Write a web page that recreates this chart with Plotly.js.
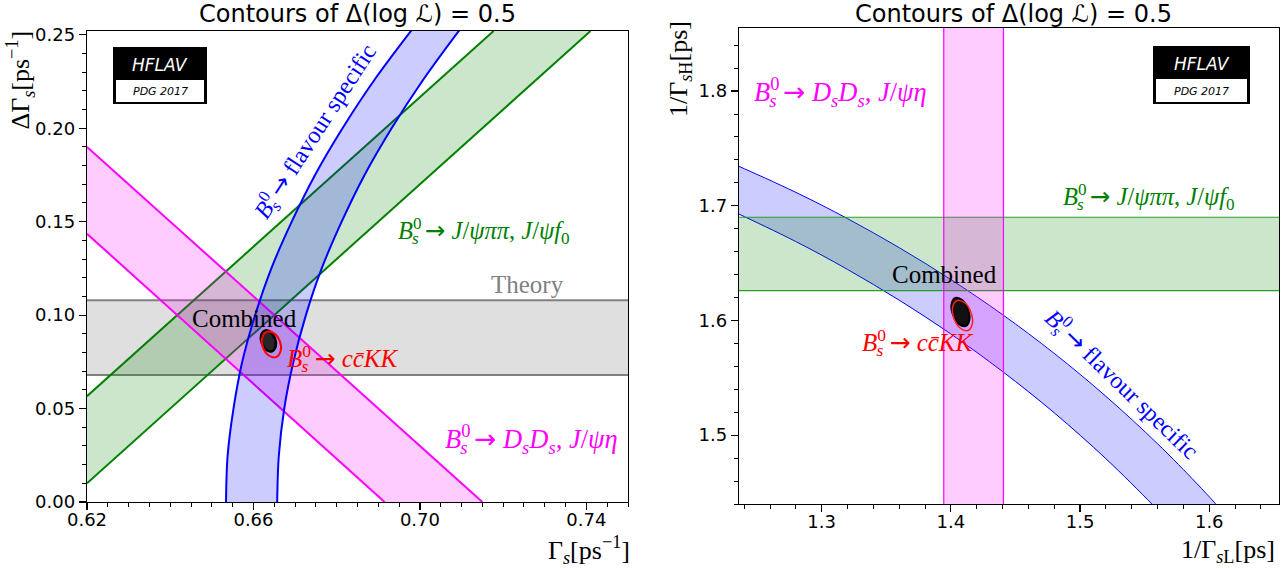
<!DOCTYPE html>
<html><head><meta charset="utf-8">
<script src="https://cdn.plot.ly/plotly-3.0.1.min.js"></script>
<style>html,body{margin:0;padding:0;background:#fff}#chart{width:1286px;height:569px}</style>
</head><body><div id="chart"></div>
<script>
// ================= DATA =================
// ---- Left panel: x = Gamma_s [ps^-1], y = DeltaGamma_s [ps^-1]
const theoryBand = [0.068, 0.108];
const jpsiPiPiUpperX = [0.62, 0.7177];
const jpsiPiPiUpperY = [0.0566, 0.252];
const jpsiPiPiLowerX = [0.62, 0.741];
const jpsiPiPiLowerY = [0.0100, 0.252];
const dsdsUpperX = [0.62, 0.715];
const dsdsUpperY = [0.190, 0.0];
const dsdsLowerX = [0.62, 0.6915];
const dsdsLowerY = [0.1435, 0.0];
const flavourDG = [0, 0.025, 0.05, 0.075, 0.10, 0.125, 0.15, 0.175, 0.20, 0.225, 0.2525];
const flavourOuterG = [0.6534, 0.6538, 0.6552, 0.6573, 0.6604, 0.6643, 0.6692, 0.6748, 0.6814, 0.6888, 0.6980];
const flavourInnerG = [0.6657, 0.6661, 0.6674, 0.6696, 0.6726, 0.6764, 0.6812, 0.6867, 0.6932, 0.7005, 0.7095];
const combinedLeftX = [0.66271, 0.66407, 0.66517, 0.66534, 0.66448, 0.66311, 0.66201, 0.66184, 0.66271];
const combinedLeftY = [0.09170, 0.09101, 0.08747, 0.08319, 0.08067, 0.08137, 0.08490, 0.08919, 0.09170];
const ccKKLeftX = [0.66321, 0.66496, 0.66635, 0.66651, 0.66541, 0.66366, 0.66228, 0.66211, 0.66321];
const ccKKLeftY = [0.09111, 0.09026, 0.08597, 0.08067, 0.07752, 0.07837, 0.08266, 0.08796, 0.09111];
const leftXTicks = [0.62, 0.66, 0.70, 0.74];
const leftXTickText = ['0.62', '0.66', '0.70', '0.74'];
const leftYTicks = [0.00, 0.05, 0.10, 0.15, 0.20, 0.25];
const leftYTickText = ['0.00', '0.05', '0.10', '0.15', '0.20', '0.25'];

// ---- Right panel: x = 1/Gamma_sL [ps], y = 1/Gamma_sH [ps]
const jpsiPiPiTauH = [1.626, 1.690];
const dsdsTauL = [1.3945, 1.4407];
const fsUpperX = [1.22, 1.2357, 1.28, 1.32, 1.36, 1.40, 1.44, 1.48, 1.52, 1.56, 1.59, 1.605, 1.62];
const fsUpperY = [1.7420, 1.7345, 1.7117, 1.6888, 1.6635, 1.6357, 1.6051, 1.5713, 1.5339, 1.4925, 1.4583, 1.4401, 1.4210];
const fsLowerX = [1.22, 1.2357, 1.28, 1.32, 1.36, 1.40, 1.44, 1.48, 1.52, 1.556, 1.57];
const fsLowerY = [1.7009, 1.6929, 1.6688, 1.6445, 1.6177, 1.5882, 1.5555, 1.5195, 1.4795, 1.4395, 1.4228];
const combinedRightX = [1.40348, 1.40875, 1.41324, 1.41432, 1.41138, 1.40611, 1.40163, 1.40054, 1.40348];
const combinedRightY = [1.61970, 1.61779, 1.60976, 1.60039, 1.59512, 1.59704, 1.60506, 1.61443, 1.61970];
const ccKKRightX = [1.40477, 1.41063, 1.41553, 1.41659, 1.41319, 1.40733, 1.40243, 1.40137, 1.40477];
const ccKKRightY = [1.61747, 1.61551, 1.60703, 1.59697, 1.59125, 1.59321, 1.60169, 1.61174, 1.61747];
const rightXTicks = [1.3, 1.4, 1.5, 1.6];
const rightXTickText = ['1.3', '1.4', '1.5', '1.6'];
const rightYTicks = [1.5, 1.6, 1.7, 1.8];
const rightYTickText = ['1.5', '1.6', '1.7', '1.8'];

const leftXRange = [0.62, 0.75];
const leftYRange = [0, 0.252];
const rightXRange = [1.236, 1.654];
const rightYRange = [1.44, 1.855];

// ================= DRAWING =================
const W = 1286, H = 569;
const PX = v => v / W;
const PY = v => 1 - v / H;
const SERIF = 'Liberation Serif, DejaVu Serif, serif';
const SANS = 'DejaVu Sans, sans-serif';

const BLUE = '#0000ff', GREEN = '#008000', MAG = '#ff00ff';
const BLUE_F = 'rgba(0,0,255,0.2)', GREEN_F = 'rgba(0,128,0,0.2)', MAG_F = 'rgba(255,0,255,0.2)';

function fillTrace(xs, ys, color, xa, ya) {
  return {x: xs, y: ys, xaxis: xa, yaxis: ya, type: 'scatter', mode: 'lines',
          fill: 'toself', fillcolor: color, line: {width: 0}, hoverinfo: 'skip'};
}
function lineTrace(xs, ys, color, w, xa, ya, shape) {
  return {x: xs, y: ys, xaxis: xa, yaxis: ya, type: 'scatter', mode: 'lines',
          line: {color: color, width: w, shape: shape || 'linear', smoothing: 1}, hoverinfo: 'skip'};
}

const traces = [];
// ---- left panel ----
traces.push(fillTrace([leftXRange[0], leftXRange[1], leftXRange[1], leftXRange[0]],
  [theoryBand[0], theoryBand[0], theoryBand[1], theoryBand[1]], 'rgba(128,128,128,0.25)', 'x', 'y'));
traces.push(lineTrace(leftXRange, [theoryBand[0], theoryBand[0]], '#808080', 2, 'x', 'y'));
traces.push(lineTrace(leftXRange, [theoryBand[1], theoryBand[1]], '#808080', 2, 'x', 'y'));
traces.push(fillTrace(jpsiPiPiUpperX.concat(jpsiPiPiLowerX.slice().reverse()),
  jpsiPiPiUpperY.concat(jpsiPiPiLowerY.slice().reverse()), GREEN_F, 'x', 'y'));
traces.push(lineTrace(jpsiPiPiUpperX, jpsiPiPiUpperY, GREEN, 2, 'x', 'y'));
traces.push(lineTrace(jpsiPiPiLowerX, jpsiPiPiLowerY, GREEN, 2, 'x', 'y'));
traces.push(fillTrace(dsdsUpperX.concat(dsdsLowerX.slice().reverse()),
  dsdsUpperY.concat(dsdsLowerY.slice().reverse()), MAG_F, 'x', 'y'));
traces.push(lineTrace(dsdsUpperX, dsdsUpperY, MAG, 2, 'x', 'y'));
traces.push(lineTrace(dsdsLowerX, dsdsLowerY, MAG, 2, 'x', 'y'));
traces.push(fillTrace(flavourOuterG.concat(flavourInnerG.slice().reverse()),
  flavourDG.concat(flavourDG.slice().reverse()), BLUE_F, 'x', 'y'));
traces.push(lineTrace(flavourOuterG, flavourDG, BLUE, 2, 'x', 'y', 'spline'));
traces.push(lineTrace(flavourInnerG, flavourDG, BLUE, 2, 'x', 'y', 'spline'));
traces.push({x: combinedLeftX, y: combinedLeftY, xaxis: 'x', yaxis: 'y', type: 'scatter', mode: 'lines',
  fill: 'toself', fillcolor: '#262626', line: {color: '#000', width: 2.5, shape: 'spline'}, hoverinfo: 'skip'});
traces.push(lineTrace(ccKKLeftX, ccKKLeftY, '#ff0000', 2, 'x', 'y', 'spline'));

// ---- right panel ----
traces.push(fillTrace(fsUpperX.concat(fsLowerX.slice().reverse()),
  fsUpperY.concat(fsLowerY.slice().reverse()), BLUE_F, 'x2', 'y2'));
traces.push(lineTrace(fsUpperX, fsUpperY, BLUE, 1, 'x2', 'y2', 'spline'));
traces.push(lineTrace(fsLowerX, fsLowerY, BLUE, 1, 'x2', 'y2', 'spline'));
traces.push(fillTrace([rightXRange[0], rightXRange[1], rightXRange[1], rightXRange[0]],
  [jpsiPiPiTauH[0], jpsiPiPiTauH[0], jpsiPiPiTauH[1], jpsiPiPiTauH[1]], GREEN_F, 'x2', 'y2'));
traces.push(lineTrace(rightXRange, [jpsiPiPiTauH[0], jpsiPiPiTauH[0]], '#22a022', 1.2, 'x2', 'y2'));
traces.push(lineTrace(rightXRange, [jpsiPiPiTauH[1], jpsiPiPiTauH[1]], '#22a022', 1.2, 'x2', 'y2'));
traces.push(fillTrace([dsdsTauL[0], dsdsTauL[1], dsdsTauL[1], dsdsTauL[0]],
  [rightYRange[0], rightYRange[0], rightYRange[1], rightYRange[1]], MAG_F, 'x2', 'y2'));
traces.push(lineTrace([dsdsTauL[0], dsdsTauL[0]], rightYRange, MAG, 1.2, 'x2', 'y2'));
traces.push(lineTrace([dsdsTauL[1], dsdsTauL[1]], rightYRange, MAG, 1.2, 'x2', 'y2'));
traces.push({x: combinedRightX, y: combinedRightY, xaxis: 'x2', yaxis: 'y2', type: 'scatter', mode: 'lines',
  fill: 'toself', fillcolor: '#111', line: {color: '#000', width: 2, shape: 'spline'}, hoverinfo: 'skip'});
traces.push(lineTrace(ccKKRightX, ccKKRightY, '#ff2020', 1.5, 'x2', 'y2', 'spline'));

function axis(domain, range, tv, tt, minorDtick, anchor, standoff) {
  return {domain: domain, range: range, anchor: anchor, tickmode: 'array', tickvals: tv, ticktext: tt,
    ticks: 'outside', ticklen: 7, tickwidth: 1.2, tickcolor: '#000', ticklabelstandoff: standoff,
    showline: true, mirror: true, linecolor: '#000', linewidth: 1.3,
    showgrid: false, zeroline: false, fixedrange: true,
    tickfont: {family: SANS, size: 18, color: '#000'},
    minor: {tickmode: 'linear', tick0: 0, dtick: minorDtick, ticks: 'outside', ticklen: 4, tickwidth: 1, tickcolor: '#000', showgrid: false}};
}

const ann = [];
function A(text, x, y, size, color, extra) {
  ann.push(Object.assign({text: text, x: PX(x), y: PY(y), xref: 'paper', yref: 'paper', showarrow: false,
    xanchor: 'center', yanchor: 'middle', font: {family: SERIF, size: size, color: color}}, extra || {}));
}
const Bs = '<i>B</i><sup><span style="letter-spacing:-0.55em">0</span></sup><sub><i>s</i></sub>';
const TO = ' <span style="font-family:DejaVu Sans">→</span> ';
// titles
A('Contours of Δ(log ℒ) = 0.5', 357, 14, 24, '#000', {font: {family: SANS, size: 24, color: '#000'}});
A('Contours of Δ(log ℒ) = 0.5', 1013, 14, 24, '#000', {font: {family: SANS, size: 24, color: '#000'}});
// axis titles
A('Γ<sub><i>s</i></sub>[ps<sup>−1</sup>]', 632, 550, 26, '#000', {xanchor: 'right'});
A('ΔΓ<sub><i>s</i></sub>[ps<sup>−1</sup>]', 21, 29, 26, '#000', {textangle: -90, yanchor: 'top'});
A('1/Γ<sub><i>s</i>L</sub>[ps]', 1277, 551, 26, '#000', {xanchor: 'right'});
A('1/Γ<sub><i>s</i>H</sub>[ps]', 680, 19, 26, '#000', {textangle: -90, yanchor: 'top'});
// left labels
A(Bs + TO + 'flavour specific', 316, 132, 24, BLUE, {textangle: -57});
A(Bs + TO + '<i>J</i>/<i>ψππ</i>, <i>J</i>/<i>ψf</i><sub>0</sub>', 484, 232, 24.5, GREEN);
A('Theory', 527, 284, 25, '#808080');
A('Combined', 245, 318, 25, '#000');
A(Bs + TO + '<i>cc̄KK</i>', 343, 360, 25, '#ff0000');
A(Bs + TO + '<i>D</i><sub><i>s</i></sub><i>D</i><sub><i>s</i></sub>, <i>J</i>/<i>ψη</i>', 531, 440, 26.5, MAG);
// right labels
A(Bs + TO + '<i>D</i><sub><i>s</i></sub><i>D</i><sub><i>s</i></sub>, <i>J</i>/<i>ψη</i>', 752, 93, 26.5, MAG, {xanchor: 'left'});
A(Bs + TO + '<i>J</i>/<i>ψππ</i>, <i>J</i>/<i>ψf</i><sub>0</sub>', 1149, 198, 24.5, GREEN);
A('Combined', 944, 274, 25, '#000');
A(Bs + TO + '<i>cc̄KK</i>', 918, 344, 25, '#ff0000');
A(Bs + TO + 'flavour specific', 1121, 385, 24, BLUE, {textangle: 44});
// HFLAV logos
const shapes = [];
function logo(x0, x1, y0, yMid, y1) {
  shapes.push({type: 'rect', xref: 'paper', yref: 'paper', x0: PX(x0), x1: PX(x1), y0: PY(y1), y1: PY(y0),
    fillcolor: '#000', line: {width: 0}, layer: 'above'});
  shapes.push({type: 'rect', xref: 'paper', yref: 'paper', x0: PX(x0 + 3), x1: PX(x1 - 3), y0: PY(y1 - 2), y1: PY(yMid),
    fillcolor: '#fff', line: {width: 0}, layer: 'above'});
  const cx = (x0 + x1) / 2;
  A('<i>HFLAV</i>', cx, (y0 + yMid) / 2 + 1, 17, '#fff', {font: {family: SANS, size: 17, color: '#fff'}});
  A('<i>PDG 2017</i>', cx, (yMid + y1) / 2, 11, '#000', {font: {family: SANS, size: 11, color: '#000'}});
}
logo(113, 207, 47, 80, 104);
logo(1153, 1250, 46, 79, 104);

const layout = {
  width: W, height: H, margin: {l: 0, r: 0, t: 0, b: 0},
  paper_bgcolor: '#fff', plot_bgcolor: '#fff', showlegend: false, hovermode: false,
  xaxis: axis([PX(87), PX(628)], leftXRange, leftXTicks, leftXTickText, 0.005, 'y', -6),
  yaxis: axis([PY(502), PY(31)], leftYRange, leftYTicks, leftYTickText, 0.01, 'x', 0),
  xaxis2: axis([PX(739), PX(1279)], rightXRange, rightXTicks, rightXTickText, 0.02, 'y2', -6),
  yaxis2: axis([PY(504), PY(28)], rightYRange, rightYTicks, rightYTickText, 0.02, 'x2', 0),
  annotations: ann, shapes: shapes
};
Plotly.newPlot('chart', traces, layout, {displayModeBar: false, staticPlot: true});
</script></body></html>
